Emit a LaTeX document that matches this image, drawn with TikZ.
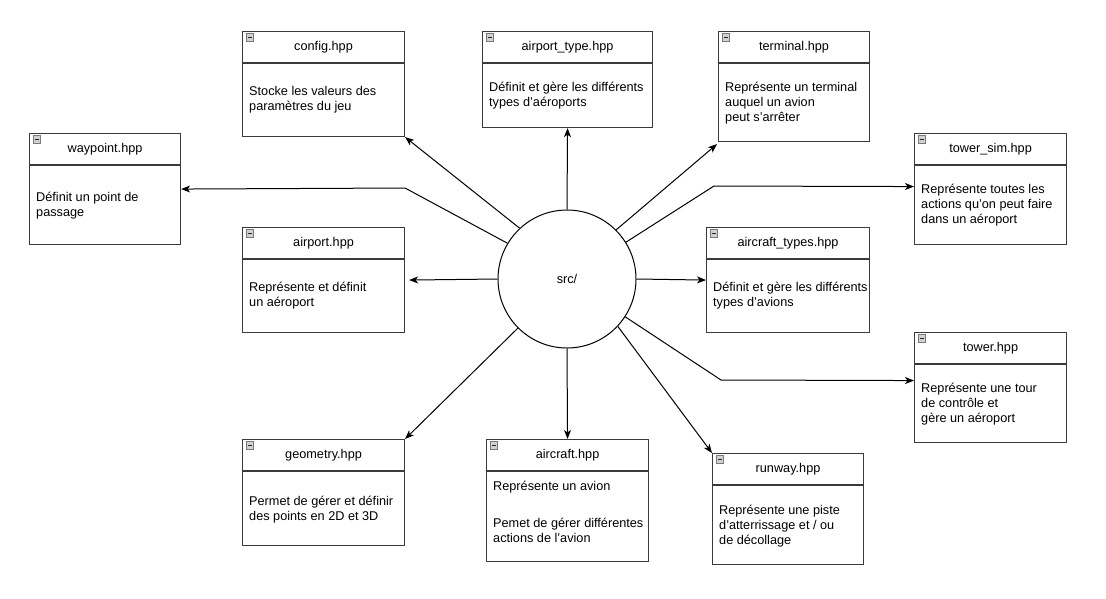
\documentclass[tikz,border=0pt]{standalone}
\usepackage{fontspec}
\setmainfont{Liberation Sans}
\usetikzlibrary{arrows.meta,calc}
\definecolor{boxline}{HTML}{3A3A3A}
\definecolor{iconfill}{HTML}{D0D0D0}
\definecolor{iconline}{HTML}{7A7A7A}
\tikzset{
  filebox/.style={draw=boxline, line width=1.1pt, anchor=north west, inner sep=0pt, fill=white},
  divider/.style={draw=boxline, line width=1.1pt},
  titletext/.style={inner sep=0pt, font=\fontsize{12.7}{15}\selectfont},
  bodytext/.style={anchor=north west, inner sep=0pt, align=left, font=\fontsize{12.7}{15}\selectfont, execute at begin node=\strut},
  iconbox/.style={draw=iconline, fill=iconfill, line width=0.6pt, minimum size=7.5pt, inner sep=0pt},
  minusbar/.style={draw=black!85, line width=1.1pt},
  conn/.style={draw=black, line width=1pt, -{Stealth[length=9pt,width=7pt,inset=2.5pt]}},
  srcnode/.style={draw=black, line width=1pt, circle, minimum size=138pt, inner sep=0pt, font=\fontsize{12.7}{15}\selectfont}
}
\newcommand\hppbox[8]{%
  \node[filebox, minimum width=#4pt, minimum height=#5pt] (#1) at (#2,#3) {};
  \draw[divider] ([yshift=-32pt]#1.north west) -- ([yshift=-32pt]#1.north east);
  \node[titletext] (#1-t) at ([yshift=-16pt]#1.north) {#6};
  \node[iconbox] (#1-i) at ([xshift=8pt,yshift=-6.5pt]#1.north west) {};
  \draw[minusbar] ([xshift=-2.4pt]#1-i.center) -- ([xshift=2.4pt]#1-i.center);
  \node[bodytext] (#1-b) at ([xshift=7pt,yshift=-#7pt]#1.north west) {#8};
}
\begin{document}
\begin{tikzpicture}[x=1pt,y=-1pt]
\useasboundingbox[fill=white] (0,0) rectangle (1106,598);

\node[srcnode] (src) at (567,279) {src/};

\hppbox{config}{242}{31}{162}{105}{config.hpp}{55}{Stocke les valeurs des\\paramètres du jeu}
\hppbox{airporttype}{482}{31}{170}{96}{airport\_type.hpp}{51}{Définit et gère les différents\\types d'aéroports}
\hppbox{terminal}{718}{31}{151}{110}{terminal.hpp}{51}{Représente un terminal\\auquel un avion\\peut s'arrêter}
\hppbox{waypoint}{29}{133}{151}{111}{waypoint.hpp}{59}{Définit un point de\\passage}
\hppbox{towersim}{914}{133}{152}{111}{tower\_sim.hpp}{51}{Représente toutes les\\actions qu'on peut faire\\dans un aéroport}
\hppbox{airport}{242}{227}{162}{105}{airport.hpp}{55}{Représente et définit\\un aéroport}
\hppbox{aircrafttypes}{706}{227}{163}{105}{aircraft\_types.hpp}{55}{}
\begin{scope}
\clip (706,260) rectangle (866.5,331);
\node[bodytext] (aircrafttypes-c) at ([xshift=7pt,yshift=-55pt]aircrafttypes.north west) {Définit et gère les différents\\types d'avions};
\end{scope}
\hppbox{tower}{914}{332}{152}{110}{tower.hpp}{51}{Représente une tour\\de contrôle et\\gère un aéroport}
\hppbox{geometry}{242}{439}{162}{106}{geometry.hpp}{57}{Permet de gérer et définir\\des points en 2D et 3D}
\hppbox{aircraft}{486}{439}{162}{122}{aircraft.hpp}{42}{Représente un avion\\[22pt]Pemet de gérer différentes\\actions de l'avion}
\hppbox{runway}{712}{453}{151}{111}{runway.hpp}{52}{Représente une piste\\d'atterrissage et / ou\\de décollage}

\draw[conn] (src.133.8) -- (config.south east);
\draw[conn] (src.north) -- (airporttype.south);
\draw[conn] (src.45) -- ([xshift=-1pt,yshift=-2pt]terminal.south west);
\draw[conn] (src.149.7) -- (405,188) -- (waypoint.east);
\draw[conn] (src.32.8) -- (714,186) -- ([yshift=2.5pt]towersim.west);
\draw[conn] (src.west) -- ([xshift=4pt]airport.east);
\draw[conn] (src.east) -- (aircrafttypes.west);
\draw[conn] (src.-33.2) -- (721,380) -- ([yshift=7pt]tower.west);
\draw[conn] (src.225.6) -- (geometry.north east);
\draw[conn] (src.south) -- (aircraft.north);
\draw[conn] (src.-43.8) -- (runway.north west);
\end{tikzpicture}
\end{document}
